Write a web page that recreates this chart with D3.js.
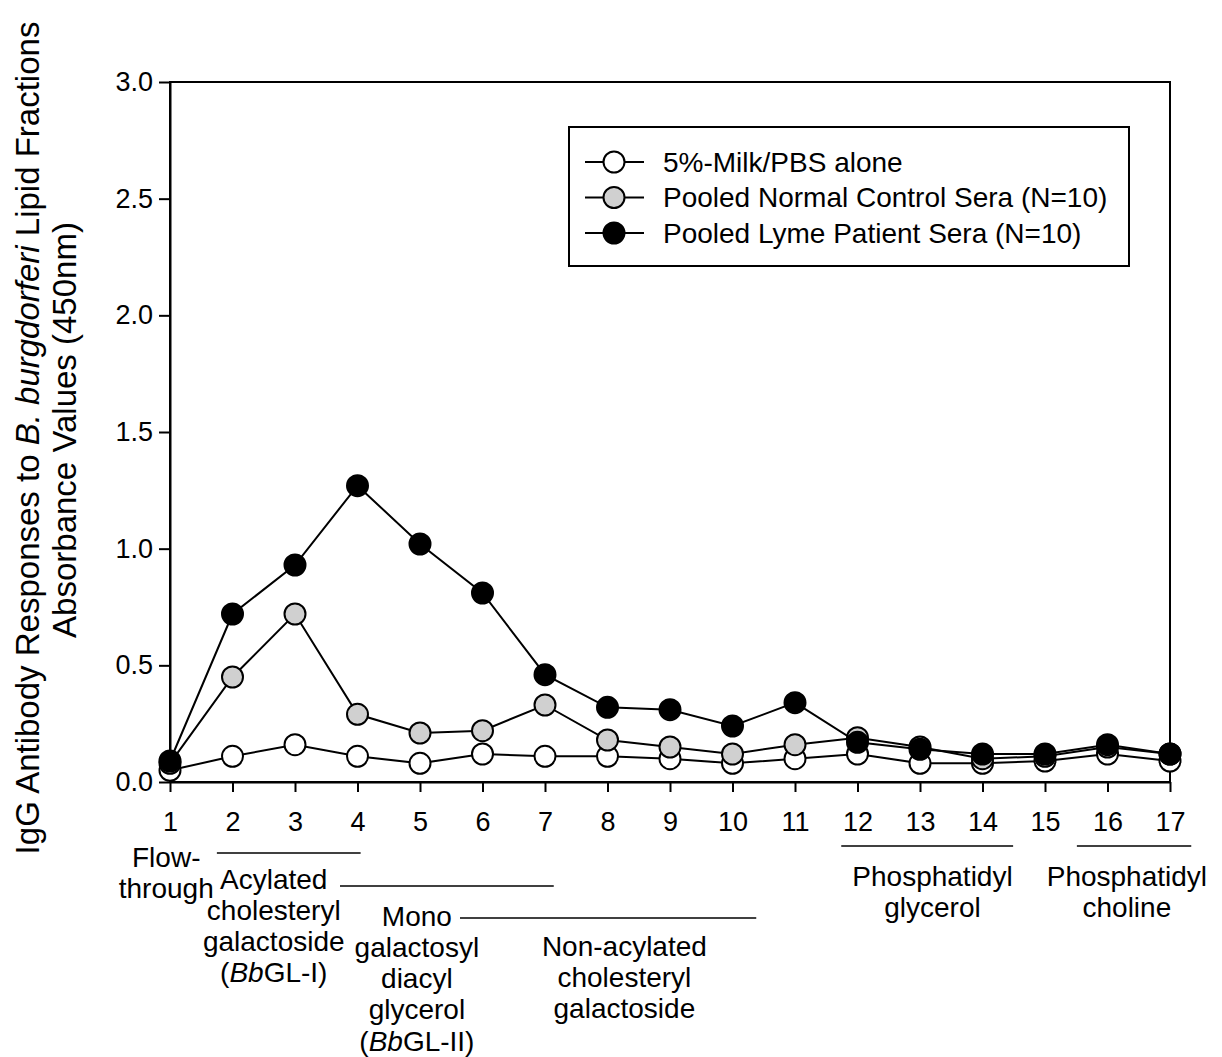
<!DOCTYPE html>
<html>
<head>
<meta charset="utf-8">
<script src="https://cdn.jsdelivr.net/npm/d3@7"></script>
<style>
  body { margin: 0; background: #fff; }
  svg { font-family: "Liberation Sans", Arial, sans-serif; }
</style>
</head>
<body>
<div id="chart"></div>
<script>
// fraction numbers on the x axis
const fractions = d3.range(1, 18);
const yTicks = [0, 0.5, 1.0, 1.5, 2.0, 2.5, 3.0];

// absorbance values
const milkValues   = [0.05, 0.11, 0.16, 0.11, 0.08, 0.12, 0.11, 0.11, 0.10, 0.08, 0.10, 0.12, 0.08, 0.08, 0.09, 0.12, 0.09];
const normalValues = [0.08, 0.45, 0.72, 0.29, 0.21, 0.22, 0.33, 0.18, 0.15, 0.12, 0.16, 0.19, 0.15, 0.10, 0.11, 0.15, 0.12];
const lymeValues   = [0.09, 0.72, 0.93, 1.27, 1.02, 0.81, 0.46, 0.32, 0.31, 0.24, 0.34, 0.17, 0.14, 0.12, 0.12, 0.16, 0.12];

const seriesNames = ["5%-Milk/PBS alone", "Pooled Normal Control Sera (N=10)", "Pooled Lyme Patient Sera (N=10)"];
const seriesFills = ["#ffffff", "#d0d0d0", "#000000"];

// lipid class brackets under the axis (x in fraction units)
const brackets = [
  {from: 1.75, to: 4.05, row: 0},
  {from: 3.72, to: 7.14, row: 1},
  {from: 5.64, to: 10.38, row: 2},
  {from: 11.74, to: 14.49, row: -1},
  {from: 15.51, to: 17.34, row: -1}
];
const classLabels = [
  {x: 0.94, top: 857, lines: ["Flow-", "through"]},
  {x: 2.66, top: 879, lines: ["Acylated", "cholesteryl", "galactoside", "(<i>Bb</i>GL-I)"]},
  {x: 4.95, top: 916, lines: ["Mono", "galactosyl", "diacyl", "glycerol", "(<i>Bb</i>GL-II)"]},
  {x: 8.27, top: 946, lines: ["Non-acylated", "cholesteryl", "galactoside"]},
  {x: 13.2, top: 876, lines: ["Phosphatidyl", "glycerol"]},
  {x: 16.31, top: 876, lines: ["Phosphatidyl", "choline"]}
];

const width = 1222, height = 1057;
const margin = {top: 82, right: 52, bottom: 275, left: 170};

const svg = d3.select("#chart").append("svg")
  .attr("width", width)
  .attr("height", height);

svg.append("rect").attr("width", width).attr("height", height).attr("fill", "#fff");

const x = d3.scaleLinear().domain([1, 17]).range([margin.left, width - margin.right]);
const y = d3.scaleLinear().domain([0, 3]).range([height - margin.bottom, margin.top]);

// frame
svg.append("rect")
  .attr("x", x(1)).attr("y", y(3))
  .attr("width", x(17) - x(1)).attr("height", y(0) - y(3))
  .attr("fill", "none").attr("stroke", "#000").attr("stroke-width", 2);

const xAxis = svg.append("g")
  .attr("transform", `translate(0,${y(0)})`)
  .call(d3.axisBottom(x).tickValues(fractions).tickFormat(d3.format("d"))
    .tickSize(10).tickSizeOuter(0).tickPadding(20));

const yAxis = svg.append("g")
  .attr("transform", `translate(${x(1)},0)`)
  .call(d3.axisLeft(y).tickValues(yTicks).tickFormat(d3.format(".1f"))
    .tickSize(11).tickSizeOuter(0).tickPadding(6));

[xAxis, yAxis].forEach(a => {
  a.selectAll("path, line").attr("stroke", "#000").attr("stroke-width", 2);
  a.selectAll("text").attr("fill", "#000").style("font-size", "27px");
});

// y title, two lines
const title = svg.append("text")
  .attr("transform", `translate(39,${(y(0) + y(3)) / 2 + 6}) rotate(-90)`)
  .attr("text-anchor", "middle")
  .style("font-size", "33px");
title.append("tspan").text("IgG Antibody Responses to ");
title.append("tspan").style("font-style", "italic").text("B. burgdorferi");
title.append("tspan").text(" Lipid Fractions");
svg.append("text")
  .attr("transform", `translate(76,${(y(0) + y(3)) / 2 - 2}) rotate(-90)`)
  .attr("text-anchor", "middle")
  .style("font-size", "33px")
  .text("Absorbance Values (450nm)");

// series
const allSeries = [milkValues, normalValues, lymeValues];
const line = d3.line().x((d, i) => x(fractions[i])).y(d => y(d));

allSeries.forEach((vals, s) => {
  const g = svg.append("g");
  g.append("path")
    .attr("d", line(vals))
    .attr("fill", "none").attr("stroke", "#000").attr("stroke-width", 2);
  g.selectAll("circle").data(vals).enter().append("circle")
    .attr("cx", (d, i) => x(fractions[i]))
    .attr("cy", d => y(d))
    .attr("r", 10.5)
    .attr("fill", seriesFills[s])
    .attr("stroke", "#000").attr("stroke-width", 2);
});

// legend
const legend = svg.append("g");
legend.append("rect")
  .attr("x", 569).attr("y", 127).attr("width", 560).attr("height", 139)
  .attr("fill", "#fff").attr("stroke", "#000").attr("stroke-width", 2);
seriesNames.forEach((name, s) => {
  const ly = 162 + s * 35.5;
  legend.append("line").attr("x1", 585).attr("x2", 644).attr("y1", ly).attr("y2", ly)
    .attr("stroke", "#000").attr("stroke-width", 2);
  legend.append("circle").attr("cx", 614).attr("cy", ly).attr("r", 10.5)
    .attr("fill", seriesFills[s]).attr("stroke", "#000").attr("stroke-width", 2);
  legend.append("text").attr("x", 663).attr("y", ly).attr("dy", "0.35em")
    .style("font-size", "28px").text(name);
});

// brackets and class names under the axis
const rowY = {"-1": 846, "0": 853, "1": 886, "2": 918};
svg.selectAll(".bracket").data(brackets).enter().append("line")
  .attr("x1", d => x(d.from)).attr("x2", d => x(d.to))
  .attr("y1", d => rowY[d.row]).attr("y2", d => rowY[d.row])
  .attr("stroke", "#000").attr("stroke-width", 1.5);

classLabels.forEach(lab => {
  const t = svg.append("text")
    .attr("text-anchor", "middle")
    .style("font-size", "28px");
  lab.lines.forEach((ln, i) => {
    const ts = t.append("tspan").attr("x", x(lab.x)).attr("y", lab.top + i * 31.2).attr("dy", "0.35em");
    const parts = ln.split(/(<i>.*?<\/i>)/).filter(p => p);
    parts.forEach(p => {
      if (p.startsWith("<i>")) ts.append("tspan").style("font-style", "italic").text(p.replace(/<\/?i>/g, ""));
      else ts.append("tspan").text(p);
    });
  });
});
</script>
</body>
</html>
